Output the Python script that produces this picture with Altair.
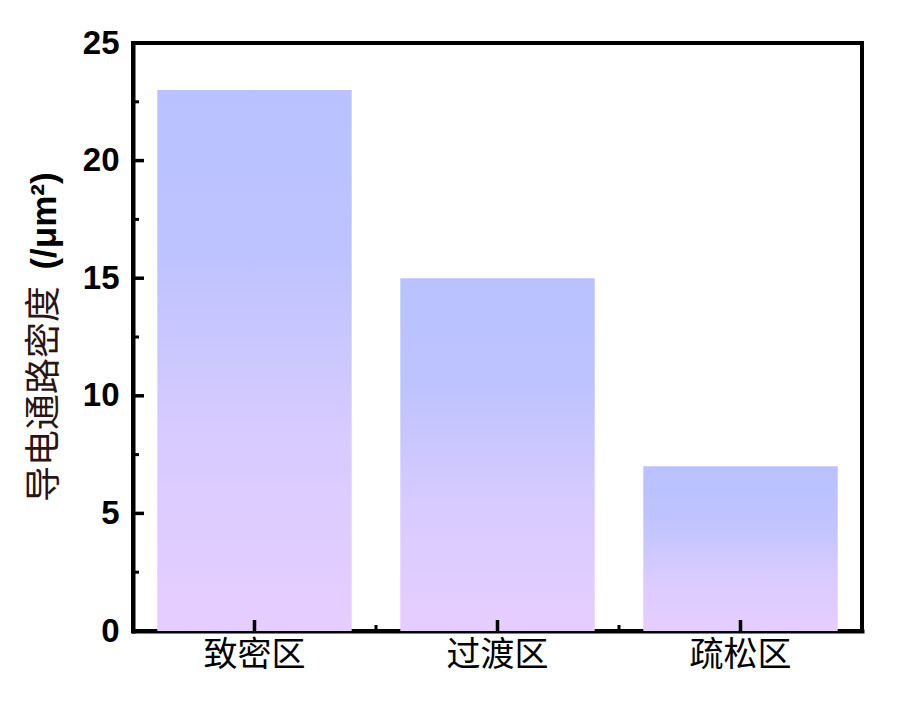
import altair as alt
import pandas as pd

categories = ["致密区", "过渡区", "疏松区"]
values = [23.0, 15.0, 7.0]
y_major = [0, 5, 10, 15, 20, 25]
y_minor = [2.5, 7.5, 12.5, 17.5, 22.5]
x_minor_cats = ["过渡区", "疏松区"]
title_cn = "导电通路密度"
title_unit = "(/μm²)"

bars_df = pd.DataFrame({"cat": categories, "val": values})
ymaj_df = pd.DataFrame({"v": y_major})
ymin_df = pd.DataFrame({"v": y_minor})
xmaj_df = pd.DataFrame({"cat": categories})
xmin_df = pd.DataFrame({"cat": x_minor_cats})
title_df = pd.DataFrame({"cn": [title_cn], "unit": [title_unit]})

W, H = 729, 588

xscale = alt.Scale(domain=categories, paddingInner=0, paddingOuter=0)
yscale = alt.Scale(domain=[0, 25], nice=False)

grad = alt.Gradient(
    gradient="linear",
    x1=0, y1=0, x2=0, y2=1,
    stops=[
        alt.GradientStop(color="#b9c2ff", offset=0),
        alt.GradientStop(color="#bdc3ff", offset=0.3),
        alt.GradientStop(color="#d8cbff", offset=0.65),
        alt.GradientStop(color="#e7cdff", offset=1),
    ],
)

bars = alt.Chart(bars_df).mark_bar(
    fill=grad, width=alt.RelativeBandSize(0.8)
).encode(
    x=alt.X("cat:N", scale=xscale, sort=categories,
            axis=alt.Axis(title=None, labelAngle=0, ticks=False, tickSize=0,
                          labelFont="Noto Sans CJK SC", labelFontSize=34,
                          labelColor="black", labelPadding=7,
                          domainColor="black", domainWidth=4)),
    y=alt.Y("val:Q", scale=yscale,
            axis=alt.Axis(title=None, values=y_major, ticks=False, tickSize=0,
                          labelFont="Liberation Sans", labelFontWeight="bold",
                          labelFontSize=33, labelColor="black", labelPadding=14,
                          domainColor="black", domainWidth=4, grid=False)),
)

ymaj = alt.Chart(ymaj_df).mark_rule(color="black", strokeWidth=3.5).encode(
    y=alt.Y("v:Q", scale=yscale), x=alt.value(0), x2=alt.value(11)
)
ymin = alt.Chart(ymin_df).mark_rule(color="black", strokeWidth=3).encode(
    y=alt.Y("v:Q", scale=yscale), x=alt.value(0), x2=alt.value(6)
)
xmaj = alt.Chart(xmaj_df).mark_rule(color="black", strokeWidth=3.5).encode(
    x=alt.X("cat:N", scale=xscale, sort=categories, bandPosition=0.5),
    y=alt.value(H), y2=alt.value(H - 11),
)
xmin = alt.Chart(xmin_df).mark_rule(color="black", strokeWidth=3).encode(
    x=alt.X("cat:N", scale=xscale, sort=categories, bandPosition=0),
    y=alt.value(H), y2=alt.value(H - 6),
)

t_cn = alt.Chart(title_df).mark_text(
    angle=270, align="center", baseline="middle",
    font="Noto Sans CJK SC", fontSize=36, color="#2a1414"
).encode(text="cn:N", x=alt.value(-88), y=alt.value(351))
t_unit = alt.Chart(title_df).mark_text(
    angle=270, align="center", baseline="middle",
    font="Liberation Sans", fontWeight="bold", fontSize=35, color="black"
).encode(text="unit:N", x=alt.value(-88), y=alt.value(178))

chart = alt.layer(bars, ymaj, ymin, xmaj, xmin, t_cn, t_unit).properties(
    width=W, height=H,
    autosize=alt.AutoSizeParams(type="none"),
    padding={"left": 125, "top": 35, "right": 27, "bottom": 67},
).configure_view(
    stroke="black", strokeWidth=4
).configure_axis(
    domainCap="square"
)

chart.save("out.html", embed_options={"renderer": "svg", "actions": False})
